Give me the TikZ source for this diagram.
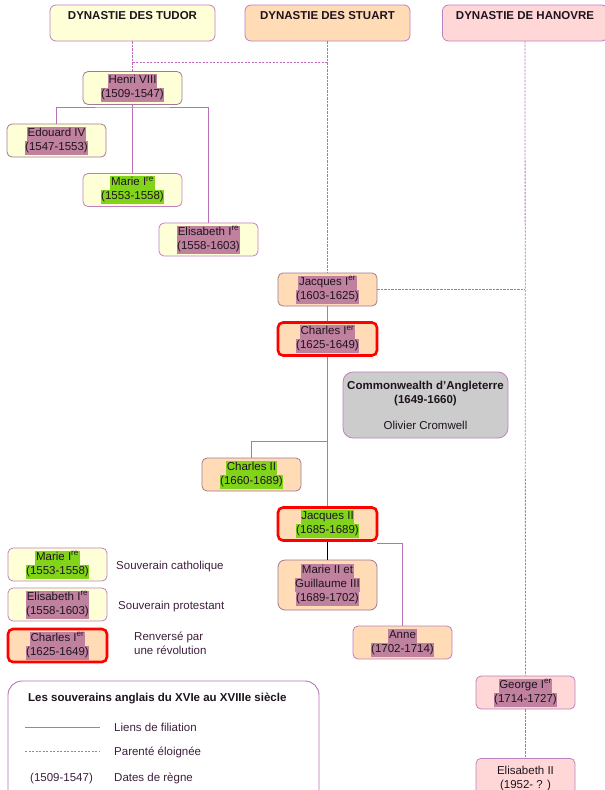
\documentclass[tikz,border=0pt]{standalone}
\usepackage{fontspec}
\setmainfont{Liberation Sans}
\definecolor{tudorfill}{HTML}{FFFFD7}
\definecolor{stuartfill}{HTML}{FFDBB6}
\definecolor{hanfill}{HTML}{FFD7D7}
\definecolor{greyfill}{HTML}{CCCCCC}
\definecolor{hlpurple}{HTML}{BF819E}
\definecolor{hlgreen}{HTML}{81D41A}
\definecolor{boxborder}{HTML}{A07A90}
\definecolor{headborder}{HTML}{C080C0}
\definecolor{linkcol}{HTML}{B870B8}
\definecolor{dashcol}{HTML}{C266C2}
\definecolor{txt}{HTML}{1E141E}
\definecolor{legtxt}{HTML}{3D1F3D}
\setlength\fboxsep{0pt}
\newcommand\hlp[1]{\colorbox{hlpurple}{\strut\kern0.6pt#1\kern0.6pt}}
\newcommand\hlg[1]{\colorbox{hlgreen}{\strut\kern0.6pt#1\kern0.6pt}}
\newcommand\supx[1]{\textsuperscript{#1}}
\begin{document}
\begin{tikzpicture}[x=1pt,y=-1pt,
  every node/.style={text=txt, font=\fontsize{11.5}{14}\selectfont},
  box/.style={draw=boxborder, rounded corners=5pt, line width=0.8pt, minimum width=99pt, minimum height=33pt, inner sep=0pt, align=center},
  tud/.style={box, fill=tudorfill},
  stu/.style={box, fill=stuartfill},
  han/.style={box, fill=hanfill},
  revbox/.style={draw=red, line width=2.6pt},
  head/.style={draw=headborder, line width=0.8pt, rounded corners=6pt, minimum width=165pt, inner xsep=0pt, inner ysep=5pt, text height=9pt, text depth=17pt, font=\bfseries\fontsize{11.5}{14}\selectfont},
  fil/.style={draw=linkcol, line width=0.9pt},
  par/.style={draw=dashcol, line width=0.8pt, dash pattern=on 2.2pt off 1.3pt},
  lab/.style={text=legtxt, anchor=base west, inner sep=0pt}
]
\useasboundingbox (0,0) rectangle (605,790);
\clip (0,0) rectangle (605,790);

% headers
\node[head, fill=tudorfill] (tudor) at (132.5,23) {DYNASTIE DES TUDOR};
\node[head, fill=stuartfill] (stuart) at (327.5,23) {DYNASTIE DES STUART};
\node[head, fill=hanfill] (hanovre) at (525,23) {DYNASTIE DE HANOVRE};

% Tudor
\node[tud] (henri) at (132.5,88) {\hlp{Henri VIII}\\\hlp{(1509-1547)}};
\node[tud] (edouard) at (56.5,140.5) {\hlp{Edouard IV}\\\hlp{(1547-1553)}};
\node[tud, draw=headborder] (marie) at (132.5,190) {\hlg{Marie I\supx{re}}\\\hlg{(1553-1558)}};
\node[tud, draw=headborder] (elisabeth) at (208.5,239.5) {\hlp{Elisabeth I\supx{re}}\\\hlp{(1558-1603)}};

% Stuart
\node[stu] (jacques1) at (327.5,289.5) {\hlp{Jacques I\supx{er}}\\\hlp{(1603-1625)}};
\node[stu, revbox] (charles1) at (327.5,339) {\hlp{Charles I\supx{er}}\\\hlp{(1625-1649)}};
\node[box, fill=greyfill, draw=headborder, minimum width=165pt, minimum height=66pt, rounded corners=10pt] (common) at (425.5,405)
  {\textbf{Commonwealth d’Angleterre}\\\textbf{(1649-1660)}\\[12pt]Olivier Cromwell};
\node[stu] (charles2) at (251.5,474.5) {\hlg{Charles II}\\\hlg{(1660-1689)}};
\node[stu, revbox] (jacques2) at (327.5,524) {\hlg{Jacques II}\\\hlg{(1685-1689)}};
\node[stu, minimum height=50pt, rounded corners=7pt] (marie2) at (327.5,585) {\hlp{Marie II et}\\\hlp{Guillaume III}\\\hlp{(1689-1702)}};
\node[stu, draw=headborder] (anne) at (402.5,642.5) {\hlp{Anne}\\\hlp{(1702-1714)}};

% Hanovre
\node[han, draw=headborder] (george) at (525.5,692.5) {\hlp{George I\supx{er}}\\\hlp{(1714-1727)}};
\node[han, draw=headborder, minimum height=40pt, anchor=north] (elis2) at (525.5,758) {Elisabeth II\\(1952- ? )};

% connectors
\coordinate (hb) at (132.5,107);
\draw[fil] (henri.south) -- (marie.north);
\draw[fil] (edouard.north) |- (hb) -| (elisabeth.north);
\coordinate (sj) at (327.5,62);
\draw[par] (tudor.south) -- (henri.north);
\draw[par] (tudor.south |- sj) -- (sj);
\draw[par] (stuart.south) -- (jacques1.north);
\draw[par] (hanovre.south) -- (george.north);
\draw[par] (jacques1.east) -- (jacques1.east -| hanovre.south);
\draw[par] (george.south) -- (elis2.north);
\draw[fil] (jacques1.south) -- (charles1.north);
\draw[fil] (charles1.south) -- (jacques2.north);
\coordinate (cj) at (327.5,441);
\draw[fil] (cj) -| (charles2.north);
\draw[black, line width=0.9pt] (jacques2.south) -- (marie2.north);
\coordinate (ja) at (377,543);
\draw[fil] (ja) -| (anne.north);

% legend keys
\node[tud, draw=headborder] (kmarie) at (57.5,564.5) {\hlg{Marie I\supx{re}}\\\hlg{(1553-1558)}};
\node[lab] (kcath) at (116,569) {Souverain catholique};
\node[tud, draw=headborder] (kelis) at (57.5,604.5) {\hlp{Elisabeth I\supx{re}}\\\hlp{(1558-1603)}};
\node[lab] (kprot) at (118,609) {Souverain protestant};
\node[stu, revbox] (kcharles) at (57.5,645.5) {\hlp{Charles I\supx{er}}\\\hlp{(1625-1649)}};
\node[lab, align=left, anchor=north west] (krev) at (134,632) {Renversé par\\une révolution};

% legend box
\node[draw=linkcol, line width=0.9pt, rounded corners=14pt, minimum width=311pt, minimum height=125pt, inner sep=0pt] (legend) at (163.5,743.5) {};
\node[anchor=base west, inner sep=0pt, font=\bfseries\fontsize{11.5}{14}\selectfont] (ltitle) at (28,701) {Les souverains anglais du XVIe au XVIIIe siècle};
\coordinate (l1a) at (25,727); \coordinate (l1b) at (100,727);
\draw[fil] (l1a) -- (l1b);
\node[lab] (lfil) at (114,731) {Liens de filiation};
\coordinate (l2a) at (25,751); \coordinate (l2b) at (100,751);
\draw[par] (l2a) -- (l2b);
\node[lab] (lpar) at (114,755) {Parenté éloignée};
\node[lab] (ldates) at (30,781) {(1509-1547)};
\node[lab] (lregne) at (114,781) {Dates de règne};
\end{tikzpicture}
\end{document}
